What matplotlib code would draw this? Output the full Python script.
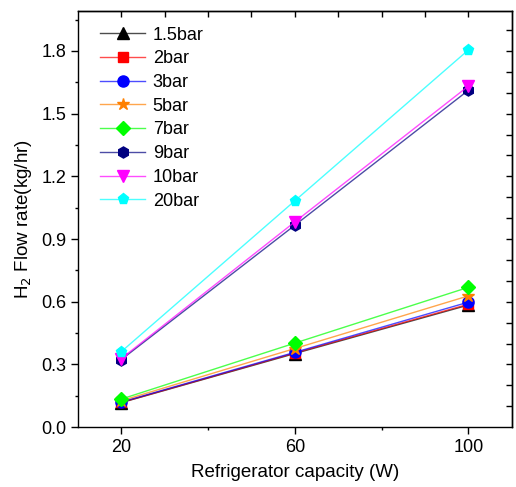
import matplotlib
matplotlib.use('Agg')
import matplotlib.pyplot as plt
from matplotlib.colors import to_rgba
from matplotlib.ticker import MultipleLocator

plt.rcParams['font.family'] = ['Liberation Sans', 'DejaVu Sans']

capacity = [20, 60, 100]
labels = ['1.5bar', '2bar', '3bar', '5bar', '7bar', '9bar', '10bar', '20bar']
flow_15 = [0.117, 0.352, 0.584]
flow_2 = [0.118, 0.355, 0.588]
flow_3 = [0.120, 0.358, 0.598]
flow_5 = [0.126, 0.376, 0.628]
flow_7 = [0.134, 0.402, 0.669]
flow_9 = [0.323, 0.966, 1.612]
flow_10 = [0.328, 0.982, 1.632]
flow_20 = [0.361, 1.083, 1.805]

series = [flow_15, flow_2, flow_3, flow_5, flow_7, flow_9, flow_10, flow_20]
colors = ['black', 'red', 'blue', '#FF8000', '#00FF00', '#000080', '#FF00FF', '#00FFFF']
markers = ['^', 's', 'o', '*', 'D', 'h', 'v', 'p']
msizes = [8, 7, 8, 9, 7, 8, 8, 8]

fig = plt.figure(figsize=(5.16, 4.87), dpi=100)
ax = fig.add_axes([0.151, 0.123, 0.841, 0.854])

for lab, y, c, m, ms in zip(labels, series, colors, markers, msizes):
    ax.plot(capacity, y, color=to_rgba(c, 0.7), lw=1.0, marker=m, markersize=ms,
            markerfacecolor=c, markeredgecolor=c, label=lab)

ax.set_xlim(10, 110)
ax.set_ylim(0, 1.99)
ax.set_xticks([20, 60, 100])
ax.xaxis.set_minor_locator(MultipleLocator(20))
ax.yaxis.set_major_locator(MultipleLocator(0.3))
ax.yaxis.set_minor_locator(MultipleLocator(0.15))
ax.tick_params(axis='both', which='major', direction='out', length=5, width=1,
               labelsize=13, top=False, right=False)
ax.tick_params(axis='both', which='minor', direction='out', length=2.5, width=1,
               top=False, right=False)

# inward ticks on top and right edges
top = ax.secondary_xaxis('top')
top.set_xticks([20, 30, 40, 50, 60, 70, 80, 90, 100])
top.tick_params(direction='in', length=4, width=1, labeltop=False)
right = ax.secondary_yaxis('right')
right.set_yticks([0.1 * i for i in range(1, 20)])
right.tick_params(direction='in', length=4, width=1, labelright=False)

for s in ax.spines.values():
    s.set_linewidth(1.0)
top.spines['top'].set_linewidth(1.0)
right.spines['right'].set_linewidth(1.0)

ax.set_xlabel('Refrigerator capacity (W)', fontsize=13.5, labelpad=6)
ax.set_ylabel('H$_2$ Flow rate(kg/hr)', fontsize=13.5, labelpad=5)

ax.legend(loc='upper left', frameon=False, fontsize=13, handlelength=2.5,
          handletextpad=0.4, labelspacing=0.37, borderaxespad=0.0,
          bbox_to_anchor=(0.035, 0.98))

fig.savefig('out.png', dpi=100)
